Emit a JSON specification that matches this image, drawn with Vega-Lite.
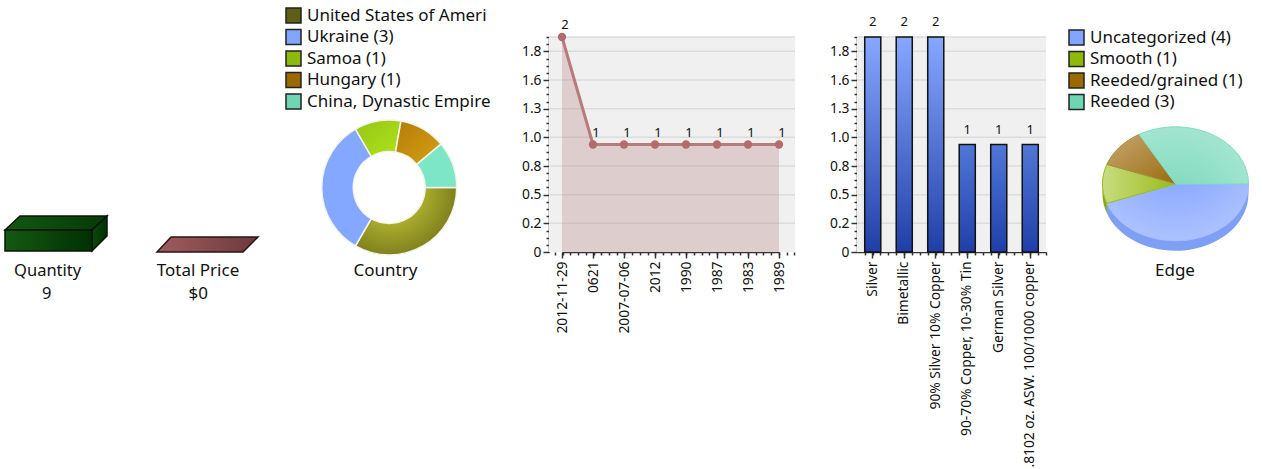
{
"$schema":"https://vega.github.io/schema/vega-lite/v6.json",
"padding":0,
"background":"white",
"bounds":"flush",
"spacing":0,
"resolve":{"scale":{"color":"independent"},"legend":{"color":"independent"}},
"config":{"view":{"stroke":null},"font":"Noto Sans","text":{"font":"Noto Sans","color":"#111"},
"axis":{"labelFont":"Noto Sans","labelFontSize":13.8,"labelColor":"#111","tickColor":"#333","domainColor":"#333","domainWidth":1.5,"tickWidth":1.5,"title":null,"grid":false}},
"datasets":{
"totals":[{"metric":"Quantity","shown":"9"},{"metric":"Total Price","shown":"$0"}],
"boxTop":[{"u":0,"v":100,"v2":100},{"u":17.24,"v":166.7,"v2":100},{"u":100,"v":166.7,"v2":100},{"u":117.24,"v":166.7,"v2":166.7}],
"boxSide":[{"u":100,"v":100,"v2":0},{"u":117.24,"v":166.7,"v2":71.4}],
"boxFront":[{"u":0,"u2":100,"v":0,"v2":100}],
"plate":[{"u":0,"v":0,"v2":0},{"u":16.3,"v":75,"v2":0},{"u":100,"v":75,"v2":0},{"u":117.4,"v":75,"v2":75}],
"country":[{"country":"United States of America (3)","n":3,"rank":1},{"country":"Ukraine (3)","n":3,"rank":2},{"country":"Samoa (1)","n":1,"rank":3},{"country":"Hungary (1)","n":1,"rank":4},{"country":"China, Dynastic Empire (1)","n":1,"rank":5}],
"edge":[{"edge":"Uncategorized (4)","n":4},{"edge":"Smooth (1)","n":1},{"edge":"Reeded/grained (1)","n":1},{"edge":"Reeded (3)","n":3}],
"years":[{"year":"2012-11-29","count":2},{"year":"0621","count":1},{"year":"2007-07-06","count":1},{"year":"2012","count":1},{"year":"1990","count":1},{"year":"1987","count":1},{"year":"1983","count":1},{"year":"1989","count":1}],
"metals":[{"metal":"Silver","count":2},{"metal":"Bimetallic","count":2},{"metal":"90% Silver 10% Copper","count":2},{"metal":"90-70% Copper, 10-30% Tin","count":1},{"metal":"German Silver","count":1},{"metal":".8102 oz. ASW. 100/1000 copper","count":1}],
"plotBack":[{"lo":0,"hi":2}],
"gridTicks":[{"t":0.2667},{"t":0.5333},{"t":0.8},{"t":1.0667},{"t":1.3333},{"t":1.6},{"t":1.8667},{"t":2}],
"minor":[{"t":0}]
},
"hconcat":[
{"width":130,"height":469,
 "layer":[
 {"data":{"name":"boxTop"},"mark":{"type":"area","fill":{"gradient":"linear","x1":0,"y1":0,"x2":1,"y2":0,"stops":[{"offset":0,"color":"#125812"},{"offset":1,"color":"#063a06"}]},"stroke":"#0a140a","strokeWidth":1.5},
  "encoding":{"x":{"field":"u","type":"quantitative","scale":{"domain":[0,100],"range":[5,92]},"axis":null},"y":{"field":"v","type":"quantitative","scale":{"domain":[0,100],"range":[251,230]},"axis":null},"y2":{"field":"v2"}}},
 {"data":{"name":"boxSide"},"mark":{"type":"area","fill":{"gradient":"linear","x1":0,"y1":0,"x2":1,"y2":0,"stops":[{"offset":0,"color":"#0b4a0b"},{"offset":1,"color":"#013001"}]},"stroke":"#0a140a","strokeWidth":1.5},
  "encoding":{"x":{"field":"u","type":"quantitative"},"y":{"field":"v","type":"quantitative"},"y2":{"field":"v2"}}},
 {"data":{"name":"boxFront"},"mark":{"type":"rect","fill":{"gradient":"linear","x1":0,"y1":0,"x2":1,"y2":0,"stops":[{"offset":0,"color":"#135a13"},{"offset":1,"color":"#013001"}]},"stroke":"#0a140a","strokeWidth":1.5},
  "encoding":{"x":{"field":"u","type":"quantitative"},"x2":{"field":"u2"},"y":{"field":"v","type":"quantitative"},"y2":{"field":"v2"}}},
 {"data":{"name":"totals"},"transform":[{"filter":"datum.metric=='Quantity'"}],"mark":{"type":"text","fontSize":16.5,"align":"center","baseline":"middle"},
  "encoding":{"text":{"field":"metric"},"x":{"datum":49},"y":{"datum":-95}}},
 {"data":{"name":"totals"},"transform":[{"filter":"datum.metric=='Quantity'"}],"mark":{"type":"text","fontSize":16.5,"align":"center","baseline":"middle"},
  "encoding":{"text":{"field":"shown"},"x":{"datum":48},"y":{"datum":-205}}}
 ]},
{"width":150,"height":469,
 "layer":[
 {"data":{"name":"plate"},"mark":{"type":"area","fill":{"gradient":"linear","x1":0,"y1":0,"x2":1,"y2":0,"stops":[{"offset":0,"color":"#a05c60"},{"offset":1,"color":"#6c3a3c"}]},"stroke":"#2a1414","strokeWidth":1.5},
  "encoding":{"x":{"field":"u","type":"quantitative","scale":{"domain":[0,100],"range":[27,113]},"axis":null},"y":{"field":"v","type":"quantitative","scale":{"domain":[0,100],"range":[252,232]},"axis":null},"y2":{"field":"v2"}}},
 {"data":{"name":"totals"},"transform":[{"filter":"datum.metric=='Total Price'"}],"mark":{"type":"text","fontSize":17,"align":"center","baseline":"middle"},
  "encoding":{"text":{"field":"metric"},"x":{"datum":47.7},"y":{"datum":-95}}},
 {"data":{"name":"totals"},"transform":[{"filter":"datum.metric=='Total Price'"}],"mark":{"type":"text","fontSize":17,"align":"center","baseline":"middle"},
  "encoding":{"text":{"field":"shown"},"x":{"datum":48},"y":{"datum":-210}}}
 ]},
{"width":269,"height":469,
 "data":{"name":"country"},
 "transform":[{"stack":"n","sort":[{"field":"rank","order":"ascending"}],"as":["a0","a1"]}],
 "encoding":{"x":{"datum":0.406,"scale":{"domain":[0,1]},"axis":null},"y":{"datum":0.3998,"scale":{"domain":[1,0]},"axis":null},
  "theta":{"field":"a0","type":"quantitative","scale":{"domain":[0,9],"range":[1.5708,7.854]}},"theta2":{"field":"a1"}},
 "layer":[
 {"mark":{"type":"arc","innerRadius":36,"outerRadius":67.5},
  "encoding":{"color":{"field":"country","type":"nominal","scale":{"domain":["United States of America (3)","Ukraine (3)","Samoa (1)","Hungary (1)","China, Dynastic Empire (1)"],"range":["#5e5e14","#82a6ff","#8fb80c","#9a6a00","#6fd6b4"]},
   "legend":{"orient":"none","legendX":5,"legendY":7,"title":null,"symbolType":"square","symbolSize":225,"symbolStrokeColor":"#222","symbolStrokeWidth":1.5,"symbolOpacity":1,"labelFont":"Noto Sans","labelFontSize":17,"labelColor":"#111","labelLimit":400,"rowPadding":0.5,"padding":0,"labelOffset":5,"labelExpr":"slice(datum.label,0,22)"}}}},
 {"transform":[{"filter":"datum.rank==1"}],"mark":{"type":"arc","innerRadius":36,"outerRadius":67.5,"stroke":"#f4f4e8","strokeWidth":1.5,"fill":{"gradient":"radial","x1":0.35,"y1":0.2,"r1":0,"x2":0.35,"y2":0.2,"r2":0.85,"stops":[{"offset":0.25,"color":"#b8bc32"},{"offset":1,"color":"#646414"}]}}},
 {"transform":[{"filter":"datum.rank==2"}],"mark":{"type":"arc","innerRadius":36,"outerRadius":67.5,"stroke":"#f4f4f8","strokeWidth":1.5,"fill":"#84a7ff"}},
 {"transform":[{"filter":"datum.rank==3"}],"mark":{"type":"arc","innerRadius":36,"outerRadius":67.5,"stroke":"#f4f4e8","strokeWidth":1.5,"fill":{"gradient":"linear","x1":0,"y1":0,"x2":1,"y2":1,"stops":[{"offset":0,"color":"#98c418"},{"offset":1,"color":"#ade41a"}]}}},
 {"transform":[{"filter":"datum.rank==4"}],"mark":{"type":"arc","innerRadius":36,"outerRadius":67.5,"stroke":"#f4f4e8","strokeWidth":1.5,"fill":{"gradient":"linear","x1":1,"y1":1,"x2":0,"y2":0,"stops":[{"offset":0,"color":"#d8a012"},{"offset":1,"color":"#b27c0a"}]}}},
 {"transform":[{"filter":"datum.rank==5"}],"mark":{"type":"arc","innerRadius":36,"outerRadius":67.5,"stroke":"#f4f4e8","strokeWidth":1.5,"fill":"#7de6c6"}},
 {"data":{"values":[{"title":"Country"}]},"mark":{"type":"text","fontSize":17,"align":"center","baseline":"middle"},
  "encoding":{"text":{"field":"title"},"x":{"datum":0.392,"scale":{"domain":[0,1]},"axis":null},"y":{"datum":0.578,"scale":{"domain":[1,0]},"axis":null},"theta":null,"theta2":null}}
 ]},
{"width":246,"height":252,
 "resolve":{"scale":{"x":"independent"},"axis":{"x":"independent","y":"independent"}},
 "layer":[
 {"data":{"name":"plotBack"},"mark":{"type":"rect","fill":"#f0f0f0"},
  "encoding":{"y":{"field":"lo","type":"quantitative","scale":{"domain":[0,2],"range":[252,37]},"axis":null},"y2":{"field":"hi"}}},
 {"data":{"name":"gridTicks"},"mark":{"type":"rule","color":"#dcdcdc","strokeWidth":1.5},
  "encoding":{"y":{"field":"t","type":"quantitative","scale":{"domain":[0,2],"range":[252,37]},
   "axis":{"values":[0,0.2667,0.5333,0.8,1.0667,1.3333,1.6,1.8667],"labelExpr":"datum.value==0?'0':format(floor(datum.value*10)/10,'.1f')","tickSize":6,"labelPadding":2,"orient":"left"}}}},
 {"data":{"name":"minor"},"mark":{"type":"rule","opacity":0},
  "encoding":{"y":{"field":"t","type":"quantitative","scale":{"domain":[0,2],"range":[252,37]},
   "axis":{"values":[0.0667,0.1333,0.2,0.3333,0.4,0.4667,0.6,0.6667,0.7333,0.8667,0.9333,1,1.1333,1.2,1.2667,1.4,1.4667,1.5333,1.6667,1.7333,1.8,1.9333,2],"labels":false,"domain":false,"tickSize":3,"orient":"left"}},
  "x":{"field":"t","type":"quantitative","scale":{"domain":[-1.775,30.09]},
   "axis":{"values":[-1,0,1,2,3,4,5,6,7,8,9,10,11,12,13,14,15,16,17,18,19,20,21,22,23,24,25,26,27,28,29,30],"labels":false,"domain":false,"tickSize":3,"orient":"bottom"}}}},
 {"data":{"name":"years"},
  "encoding":{"x":{"field":"year","type":"nominal","sort":null,"scale":{"type":"point","padding":0,"range":[13,230]},
    "axis":{"labelAngle":270,"labelLimit":300,"labelOverlap":false,"tickSize":6,"labelPadding":3,"orient":"bottom"}},
   "y":{"field":"count","type":"quantitative","scale":{"domain":[0,2],"range":[252,37]},"axis":null}},
  "layer":[
   {"mark":{"type":"area","color":"#b67d7d","opacity":0.3}},
   {"mark":{"type":"line","color":"#b87a7a","strokeWidth":3}},
   {"mark":{"type":"point","filled":true,"color":"#b26c6c","size":70,"opacity":1}},
   {"mark":{"type":"text","fontSize":13,"dy":-5,"dx":3,"baseline":"bottom"},"encoding":{"text":{"field":"count"}}}
  ]}
 ]},
{"width":62,"height":1,"data":{"values":[{"k":0}]},"mark":{"type":"rect","opacity":0}},
{"width":189,"height":252,
 "resolve":{"scale":{"x":"independent"},"axis":{"x":"independent","y":"independent"}},
 "layer":[
 {"data":{"name":"plotBack"},"mark":{"type":"rect","fill":"#f0f0f0"},
  "encoding":{"y":{"field":"lo","type":"quantitative","scale":{"domain":[0,2],"range":[252,37]},"axis":null},"y2":{"field":"hi"}}},
 {"data":{"name":"gridTicks"},"mark":{"type":"rule","color":"#dcdcdc","strokeWidth":1.5},
  "encoding":{"y":{"field":"t","type":"quantitative","scale":{"domain":[0,2],"range":[252,37]},
   "axis":{"values":[0,0.2667,0.5333,0.8,1.0667,1.3333,1.6,1.8667],"labelExpr":"datum.value==0?'0':format(floor(datum.value*10)/10,'.1f')","tickSize":6,"labelPadding":2,"orient":"left"}}}},
 {"data":{"name":"minor"},"mark":{"type":"rule","opacity":0},
  "encoding":{"y":{"field":"t","type":"quantitative","scale":{"domain":[0,2],"range":[252,37]},
   "axis":{"values":[0.0667,0.1333,0.2,0.3333,0.4,0.4667,0.6,0.6667,0.7333,0.8667,0.9333,1,1.1333,1.2,1.2667,1.4,1.4667,1.5333,1.6667,1.7333,1.8,1.9333,2],"labels":false,"domain":false,"tickSize":3,"orient":"left"}},
  "x":{"field":"t","type":"quantitative","scale":{"domain":[-1.97,22.03]},
   "axis":{"values":[-1,0,1,2,3,4,5,6,7,8,9,10,11,12,13,14,15,16,17,18,19,20,21,22],"labels":false,"domain":false,"tickSize":3,"orient":"bottom"}}}},
 {"data":{"name":"metals"},
  "encoding":{"x":{"field":"metal","type":"nominal","sort":null,"scale":{"type":"band","paddingInner":0.49,"paddingOuter":0.245},
    "axis":{"labelAngle":270,"labelLimit":300,"labelOverlap":false,"tickSize":6,"labelPadding":3,"orient":"bottom"}},
   "y":{"field":"count","type":"quantitative","scale":{"domain":[0,2],"range":[252,37]},"axis":null}},
  "layer":[
   {"transform":[{"filter":"datum.count==2"}],"mark":{"type":"bar","stroke":"#111","strokeWidth":1.5,"fill":{"gradient":"linear","x1":0,"y1":0,"x2":0,"y2":1,"stops":[{"offset":0,"color":"#87a8ff"},{"offset":1,"color":"#1f3fa8"}]}}},
   {"transform":[{"filter":"datum.count==1"}],"mark":{"type":"bar","stroke":"#111","strokeWidth":1.5,"fill":{"gradient":"linear","x1":0,"y1":0,"x2":0,"y2":1,"stops":[{"offset":0,"color":"#5078d8"},{"offset":1,"color":"#1f3fa8"}]}}},
   {"mark":{"type":"text","fontSize":13,"dy":-8,"baseline":"bottom"},"encoding":{"text":{"field":"count"}}}
  ]}
 ]},
{"width":216,"height":469,
 "data":{"name":"edge"},
 "encoding":{"x":{"datum":0.5995,"scale":{"domain":[0,1]},"axis":null},"y":{"datum":0.392,"scale":{"domain":[1,0]},"axis":null}},
 "layer":[
 {"mark":{"type":"point","filled":true,"size":0,"opacity":1},
  "encoding":{"color":{"field":"edge","type":"nominal","scale":{"domain":["Uncategorized (4)","Smooth (1)","Reeded/grained (1)","Reeded (3)"],"range":["#82a6ff","#8fb80c","#9a6a00","#6fd6b4"]},
   "legend":{"orient":"none","legendX":22,"legendY":29,"title":null,"symbolType":"square","symbolSize":225,"symbolStrokeColor":"#222","symbolStrokeWidth":1.5,"symbolOpacity":1,"labelFont":"Noto Sans","labelFontSize":17,"labelColor":"#111","labelLimit":400,"rowPadding":0.5,"padding":0,"labelOffset":5}}}},
 {"transform":[{"filter":"datum.n==4"}],"mark":{"type":"point","shape":"M1 0 L1 0.137 A1 0.78 0 0 1 -0.94 0.404 L-0.94 0.267 A1 0.78 0 0 0 1 0 Z","size":21316,"filled":true,"opacity":1,"fill":"#7f9ff5"}},
 {"transform":[{"filter":"datum.edge=='Smooth (1)'"}],"mark":{"type":"point","shape":"M-1 0 L-1 0.137 A1 0.78 0 0 0 -0.94 0.404 L-0.94 0.267 A1 0.78 0 0 1 -1 0 Z","size":21316,"filled":true,"opacity":1,"fill":"#86a818"}},
 {"transform":[{"filter":"datum.n==4"}],"mark":{"type":"point","shape":"M0 0 L1 0 A1 0.78 0 0 1 -0.94 0.267 Z","size":21316,"filled":true,"opacity":1,"stroke":"#a0b8ff","strokeWidth":1,"fill":{"gradient":"radial","x1":0.485,"y1":0,"r1":0,"x2":0.485,"y2":0,"r2":0.95,"stops":[{"offset":0.25,"color":"#88a8ff"},{"offset":1,"color":"#c0d0ff"}]}}},
 {"transform":[{"filter":"datum.edge=='Smooth (1)'"}],"mark":{"type":"point","shape":"M0 0 L-0.94 0.267 A1 0.78 0 0 1 -0.94 -0.267 Z","size":21316,"filled":true,"opacity":1,"stroke":"#98bc20","strokeWidth":1,"fill":{"gradient":"linear","x1":1,"y1":0.5,"x2":0,"y2":0.5,"stops":[{"offset":0,"color":"#98bc18"},{"offset":1,"color":"#c8dc80"}]}}},
 {"transform":[{"filter":"datum.edge=='Reeded/grained (1)'"}],"mark":{"type":"point","shape":"M0 0 L-0.94 -0.267 A1 0.78 0 0 1 -0.5 -0.676 Z","size":21316,"filled":true,"opacity":1,"stroke":"#a88a40","strokeWidth":1,"fill":{"gradient":"linear","x1":1,"y1":1,"x2":0,"y2":0,"stops":[{"offset":0,"color":"#9a6c10"},{"offset":1,"color":"#c8a870"}]}}},
 {"transform":[{"filter":"datum.n==3"}],"mark":{"type":"point","shape":"M0 0 L-0.5 -0.676 A1 0.78 0 0 1 1 0 Z","size":21316,"filled":true,"opacity":1,"stroke":"#84dcc0","strokeWidth":1,"fill":{"gradient":"radial","x1":0.33,"y1":1,"r1":0,"x2":0.33,"y2":1,"r2":1,"stops":[{"offset":0.1,"color":"#7cd8ba"},{"offset":1,"color":"#b0ead8"}]}}},
 {"data":{"values":[{"title":"Edge"}]},"mark":{"type":"text","fontSize":17,"align":"center","baseline":"middle"},
  "encoding":{"text":{"field":"title"},"x":{"datum":0.597,"scale":{"domain":[0,1]},"axis":null},"y":{"datum":0.578,"scale":{"domain":[1,0]},"axis":null}}}
 ]}
]
}
